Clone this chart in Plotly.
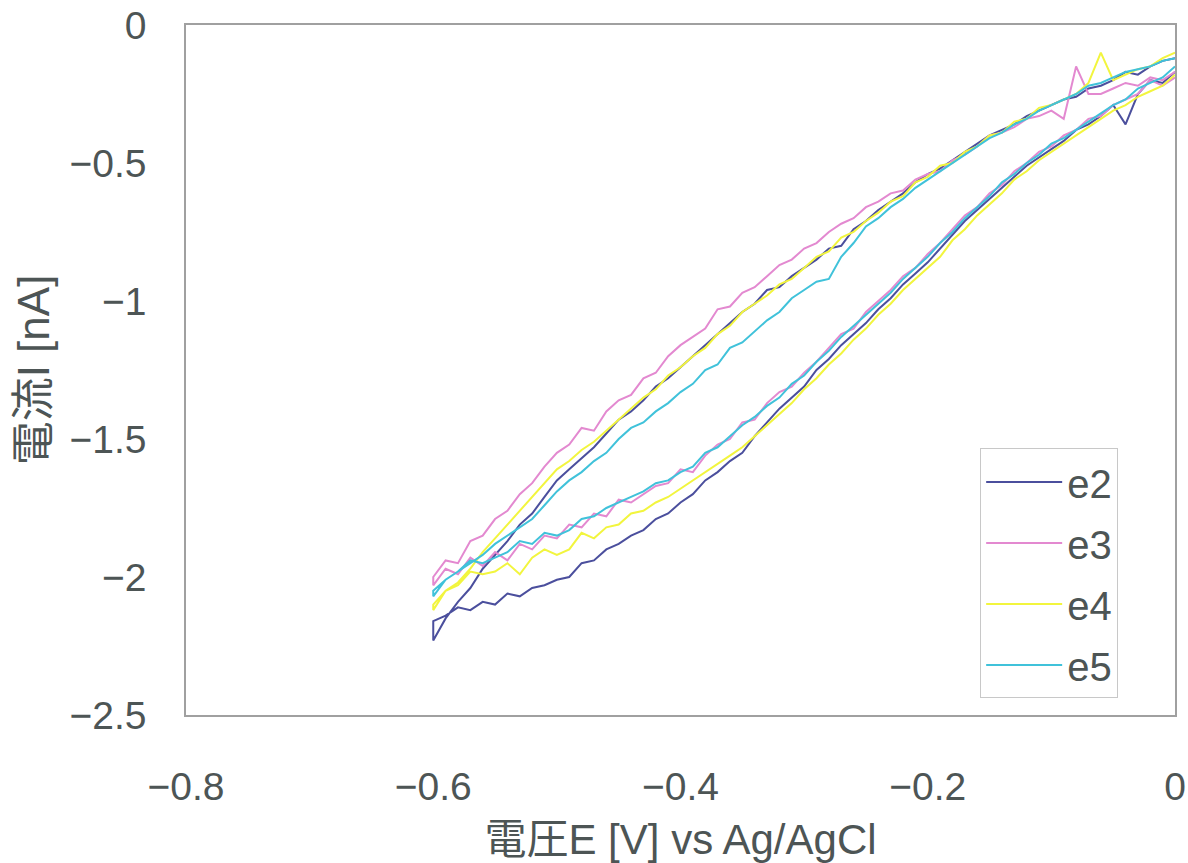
import plotly.graph_objects as go

# sweep voltages [V vs Ag/AgCl], 0 -> -0.6 (the return sweep runs back the other way)
voltage_down = [
    0.00, -0.01, -0.02, -0.03, -0.04, -0.05, -0.06, -0.07, -0.08, -0.09,
    -0.10, -0.11, -0.12, -0.13, -0.14, -0.15, -0.16, -0.17, -0.18, -0.19,
    -0.20, -0.21, -0.22, -0.23, -0.24, -0.25, -0.26, -0.27, -0.28, -0.29,
    -0.30, -0.31, -0.32, -0.33, -0.34, -0.35, -0.36, -0.37, -0.38, -0.39,
    -0.40, -0.41, -0.42, -0.43, -0.44, -0.45, -0.46, -0.47, -0.48, -0.49,
    -0.50, -0.51, -0.52, -0.53, -0.54, -0.55, -0.56, -0.57, -0.58, -0.59,
    -0.60,
]
voltage_up = voltage_down[::-1]

# current [nA], negative-going sweep (values follow voltage_down)
e2_down = [
    -0.17, -0.21, -0.20, -0.25, -0.36, -0.29, -0.33, -0.36, -0.38, -0.42,
    -0.45, -0.48, -0.51, -0.55, -0.59, -0.63, -0.67, -0.71, -0.76, -0.81,
    -0.86, -0.90, -0.94, -0.99, -1.03, -1.08, -1.12, -1.16, -1.21, -1.25,
    -1.31, -1.35, -1.39, -1.44, -1.49, -1.55, -1.58, -1.62, -1.65, -1.70,
    -1.73, -1.77, -1.79, -1.83, -1.85, -1.88, -1.90, -1.94, -1.95, -2.00,
    -2.01, -2.03, -2.04, -2.07, -2.06, -2.10, -2.09, -2.12, -2.11, -2.14,
    -2.16,
]
e3_down = [
    -0.19, -0.22, -0.20, -0.25, -0.27, -0.29, -0.33, -0.34, -0.38, -0.40,
    -0.44, -0.46, -0.50, -0.53, -0.58, -0.61, -0.66, -0.69, -0.74, -0.79,
    -0.83, -0.88, -0.91, -0.96, -1.00, -1.04, -1.10, -1.12, -1.17, -1.22,
    -1.26, -1.31, -1.33, -1.37, -1.43, -1.44, -1.50, -1.52, -1.56, -1.62,
    -1.61, -1.66, -1.67, -1.70, -1.73, -1.72, -1.78, -1.77, -1.82, -1.81,
    -1.86, -1.85, -1.90, -1.88, -1.94, -1.91, -1.96, -1.93, -1.99, -1.97,
    -2.03,
]
e4_down = [
    -0.18, -0.22, -0.24, -0.26, -0.29, -0.31, -0.34, -0.37, -0.40, -0.43,
    -0.46, -0.49, -0.53, -0.56, -0.61, -0.65, -0.69, -0.74, -0.78, -0.84,
    -0.88, -0.92, -0.96, -1.01, -1.05, -1.10, -1.14, -1.19, -1.23, -1.28,
    -1.32, -1.37, -1.41, -1.45, -1.49, -1.53, -1.56, -1.59, -1.62, -1.65,
    -1.68, -1.71, -1.73, -1.76, -1.77, -1.81, -1.82, -1.86, -1.84, -1.90,
    -1.92, -1.90, -1.93, -1.99, -1.95, -1.98, -1.99, -1.98, -2.03, -2.05,
    -2.12,
]
e5_down = [
    -0.15, -0.19, -0.21, -0.23, -0.27, -0.29, -0.32, -0.35, -0.38, -0.41,
    -0.43, -0.47, -0.50, -0.54, -0.57, -0.62, -0.66, -0.70, -0.75, -0.79,
    -0.84, -0.88, -0.92, -0.97, -1.01, -1.05, -1.09, -1.13, -1.18, -1.22,
    -1.27, -1.30, -1.35, -1.38, -1.42, -1.45, -1.49, -1.53, -1.55, -1.60,
    -1.62, -1.65, -1.66, -1.69, -1.71, -1.73, -1.75, -1.78, -1.79, -1.83,
    -1.85, -1.84, -1.88, -1.87, -1.91, -1.93, -1.95, -1.94, -1.98, -2.01,
    -2.05,
]

# current [nA], return sweep (values follow voltage_up)
e2_up = [
    -2.23, -2.15, -2.09, -2.04, -1.97, -1.92, -1.87, -1.81, -1.77, -1.71,
    -1.65, -1.61, -1.57, -1.53, -1.48, -1.43, -1.40, -1.36, -1.31, -1.28,
    -1.24, -1.20, -1.16, -1.12, -1.08, -1.04, -1.01, -0.96, -0.95, -0.91,
    -0.88, -0.85, -0.81, -0.80, -0.74, -0.71, -0.67, -0.64, -0.61, -0.57,
    -0.54, -0.52, -0.49, -0.46, -0.43, -0.40, -0.38, -0.36, -0.33, -0.31,
    -0.29, -0.27, -0.26, -0.23, -0.22, -0.20, -0.17, -0.18, -0.15, -0.13,
    -0.12,
]
e3_up = [
    -2.00, -1.94, -1.95, -1.87, -1.85, -1.79, -1.76, -1.70, -1.66, -1.60,
    -1.55, -1.52, -1.46, -1.47, -1.40, -1.36, -1.34, -1.28, -1.26, -1.20,
    -1.16, -1.13, -1.10, -1.03, -1.02, -0.97, -0.95, -0.91, -0.87, -0.85,
    -0.81, -0.79, -0.75, -0.72, -0.70, -0.66, -0.64, -0.61, -0.60, -0.56,
    -0.54, -0.53, -0.49, -0.47, -0.44, -0.40, -0.39, -0.37, -0.34, -0.33,
    -0.31, -0.34, -0.15, -0.25, -0.25, -0.23, -0.21, -0.22, -0.19, -0.20,
    -0.17,
]
e4_up = [
    -2.10, -2.05, -2.02, -1.97, -1.91, -1.86, -1.81, -1.76, -1.71, -1.66,
    -1.61, -1.58, -1.54, -1.51, -1.47, -1.43, -1.39, -1.35, -1.32, -1.27,
    -1.24, -1.20, -1.17, -1.12, -1.09, -1.04, -1.01, -0.98, -0.94, -0.92,
    -0.88, -0.84, -0.82, -0.77, -0.75, -0.71, -0.68, -0.64, -0.62, -0.57,
    -0.55, -0.51, -0.50, -0.46, -0.44, -0.40, -0.39, -0.35, -0.34, -0.30,
    -0.29, -0.27, -0.25, -0.21, -0.10, -0.20, -0.18, -0.16, -0.15, -0.12,
    -0.10,
]
e5_up = [
    -2.07, -2.01, -1.98, -1.95, -1.92, -1.88, -1.85, -1.82, -1.79, -1.74,
    -1.69, -1.65, -1.62, -1.58, -1.55, -1.50, -1.46, -1.44, -1.40, -1.37,
    -1.33, -1.30, -1.25, -1.23, -1.17, -1.15, -1.11, -1.07, -1.04, -0.99,
    -0.96, -0.93, -0.92, -0.84, -0.79, -0.73, -0.70, -0.66, -0.63, -0.59,
    -0.56, -0.53, -0.50, -0.47, -0.44, -0.41, -0.39, -0.36, -0.34, -0.31,
    -0.29, -0.27, -0.25, -0.22, -0.21, -0.19, -0.17, -0.16, -0.15, -0.13,
    -0.12,
]

series = [
    ("e2", e2_down, e2_up, "#4b4f9d"),
    ("e3", e3_down, e3_up, "#e389d0"),
    ("e4", e4_down, e4_up, "#f2f53e"),
    ("e5", e5_down, e5_up, "#40c2da"),
]

latin = "Liberation Sans Narrow, Liberation Sans, Arial"
jp = "Liberation Sans, Noto Sans CJK JP, sans-serif"
text_color = "#4d5555"

fig = go.Figure()
for name, down, up, color in series:
    fig.add_trace(
        go.Scatter(
            x=voltage_down + voltage_up,
            y=down + up,
            name=name,
            mode="lines",
            legendgroup=name,
            line=dict(color=color, width=2),
        )
    )

axis_common = dict(
    showgrid=False,
    zeroline=False,
    showline=True,
    mirror=True,
    linecolor="#a0a0a0",
    linewidth=1.5,
    ticks="",
    automargin=False,
    tickfont=dict(family=latin, size=39, color=text_color),
)

fig.update_xaxes(
    range=[-0.8, 0],
    dtick=0.2,
    ticklabelstandoff=36,
    title=dict(text="電圧E [V] vs Ag/AgCl", font=dict(family=jp, size=42, color=text_color), standoff=18),
    **axis_common,
)
fig.update_yaxes(
    range=[-2.5, 0],
    dtick=0.5,
    ticklabelstandoff=30,
    title=dict(text="電流I [nA]", font=dict(family=jp, size=44, color=text_color), standoff=6),
    **axis_common,
)

fig.update_layout(
    width=1188,
    height=863,
    margin=dict(l=186, r=13, t=25, b=148),
    paper_bgcolor="white",
    plot_bgcolor="white",
    showlegend=True,
    legend=dict(
        x=0.803,
        y=0.024,
        xanchor="left",
        yanchor="bottom",
        bgcolor="white",
        bordercolor="#c8c8c8",
        borderwidth=1,
        font=dict(family=latin, size=40, color=text_color),
        itemwidth=76,
        tracegroupgap=6,
    ),
)

fig.write_html(
    "out.html",
    config={"displayModeBar": False},
    post_script="document.body.style.margin='0';",
)
